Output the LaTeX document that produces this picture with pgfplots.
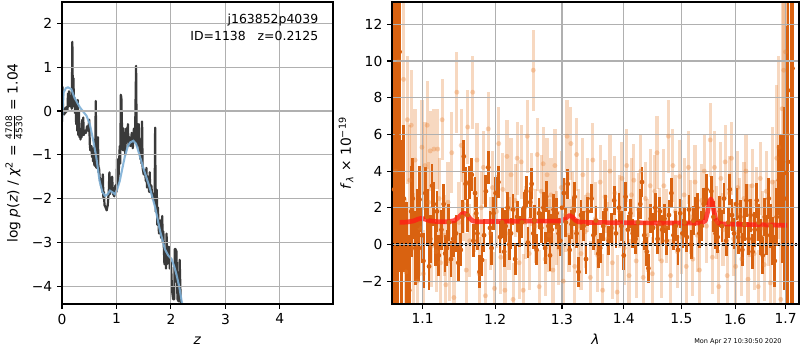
\documentclass[border=0pt]{standalone}
\usepackage{pgfplots}
\pgfplotsset{compat=1.18}
\usepackage{fontspec}
\setmainfont{DejaVu Sans}
\definecolor{darkor}{RGB}{217,98,16}
\definecolor{lightor}{RGB}{230,125,45}
\definecolor{gridc}{RGB}{176,176,176}
\definecolor{pzblue}{RGB}{125,175,214}
\definecolor{pzdark}{RGB}{58,58,58}
\definecolor{modred}{RGB}{255,30,20}

\pgfplotstableread{
x y
0.00 -0.25
0.01 0.55
0.02 -0.05
0.03 0.0
0.04 -0.08
0.05 0.05
0.06 -0.05
0.07 0.08
0.08 -0.02
0.09 0.10
0.10 0.0
0.11 0.4
0.12 0.1
0.13 0.45
0.14 0.3
0.15 0.25
0.16 0.1
0.17 0.35
0.18 0.05
0.19 1.58
0.20 0.15
0.21 0.75
0.22 0.1
0.23 0.3
0.24 -0.05
0.25 0.2
0.26 -0.3
0.27 0.05
0.28 -0.45
0.29 0.25
0.30 -0.55
0.31 0.0
0.32 -0.6
0.33 -0.4
0.34 -0.65
0.35 -0.5
0.36 -0.6
0.37 -0.2
0.38 -0.55
0.39 -0.15
0.40 -0.55
0.42 -0.45
0.44 -0.5
0.46 -0.35
0.48 -0.45
0.50 -0.2
0.51 -0.75
0.52 -0.9
0.54 -0.8
0.55 -1.05
0.56 -0.9
0.57 -1.15
0.58 -0.85
0.59 -1.2
0.60 -1.25
0.61 -0.9
0.62 0.23
0.63 -1.3
0.64 -1.0
0.65 -1.2
0.66 -0.6
0.67 -1.4
0.68 -1.3
0.69 -1.5
0.70 -1.6
0.71 -1.55
0.72 -1.75
0.73 -1.6
0.74 -1.85
0.75 -1.45
0.76 -2.0
0.77 -1.85
0.78 -2.15
0.80 -2.2
0.82 -2.27
0.84 -2.15
0.86 -1.8
0.87 -1.4
0.88 -1.9
0.90 -1.75
0.92 -1.5
0.93 -1.75
0.94 -1.9
0.96 -1.95
0.98 -1.7
1.00 -1.85
1.01 -1.1
1.02 -1.7
1.04 -1.45
1.06 -0.8
1.07 -1.2
1.08 0.37
1.09 0.3
1.10 -0.3
1.11 -0.5
1.12 -0.9
1.13 -0.4
1.14 -0.9
1.15 -0.5
1.16 -1.0
1.18 -0.4
1.20 -0.7
1.21 -0.3
1.22 -0.8
1.24 -0.6
1.26 -0.8
1.28 -0.5
1.30 -0.85
1.32 -0.4
1.34 -0.7
1.36 1.03
1.37 -0.5
1.38 -0.8
1.39 -0.3
1.40 -0.6
1.41 -0.3
1.42 -0.8
1.44 -1.1
1.45 -0.9
1.46 -1.2
1.47 -0.24
1.48 -1.3
1.50 -1.45
1.52 -1.35
1.54 -1.6
1.55 -1.3
1.56 -1.75
1.58 -1.5
1.60 -1.85
1.61 -1.4
1.62 -1.85
1.64 -1.7
1.66 -2.0
1.68 -1.9
1.70 -2.1
1.71 -0.38
1.72 -2.3
1.74 -1.8
1.75 -2.6
1.76 -2.2
1.78 -2.8
1.80 -2.5
1.82 -2.9
1.84 -2.4
1.85 -3.0
1.86 -2.75
1.88 -3.5
1.90 -3.2
1.91 -3.6
1.92 -2.8
1.93 -3.5
1.94 -3.3
1.96 -3.1
1.98 -3.6
2.00 -3.45
2.02 -4.1
2.04 -4.3
2.06 -4.3
2.07 -3.15
2.08 -3.15
2.10 -3.2
2.12 -4.3
2.14 -4.35
2.16 -3.4
2.18 -4.4
2.20 -4.45
2.22 -4.5
}\pzdata

\pgfplotstableread{
x y
0.00 -0.23
0.03 0.42
0.07 0.52
0.11 0.54
0.17 0.50
0.23 0.30
0.33 0.08
0.45 -0.11
0.51 -0.30
0.57 -0.65
0.63 -1.06
0.69 -1.60
0.74 -1.85
0.79 -1.94
0.84 -1.90
0.88 -1.82
0.93 -1.86
0.97 -1.90
1.01 -1.80
1.06 -1.60
1.15 -1.06
1.21 -0.80
1.25 -0.72
1.31 -0.68
1.36 -0.75
1.40 -0.91
1.49 -1.29
1.61 -1.75
1.71 -2.20
1.80 -2.74
1.89 -3.16
1.95 -3.30
2.01 -3.38
2.06 -3.55
2.10 -3.73
2.15 -4.00
2.20 -4.37
2.23 -4.50
}\pzsmooth

\pgfplotstableread{
x y e
1.0630 3.0 20
1.0668 6.0 20
1.0700 10.5 12
1.0725 0.7 5
1.0755 2.5 4
1.0786 -1.2 3.5
1.0824 -2.5 3
1.0850 1.8 2.5
1.0870 2.5 2.2
1.0904 -0.2 2
1.0930 1.0 2
1.0950 -0.2 1.8
1.0960 2.45 1.8
1.0990 0.5 1.5
1.1010 -0.9 1.5
1.1035 2.8 1.4
1.1060 1.5 1.5
1.1085 -1.2 1.3
1.1100 0.3 1.3
1.1125 3.2 1.2
1.1147 2.2 1.2
1.1170 0.0 1.2
1.1190 1.8 1.1
1.1215 -0.6 1.1
1.1250 0.8 1.1
1.1280 2.2 1.1
1.1300 -0.5 1.0
1.1325 -0.2 1.0
1.1350 1.2 1.0
1.1380 -0.8 1.0
1.1410 0.3 1.0
1.1450 0.6 1.0
1.1480 -1.0 1.0
1.1515 -0.3 0.9
1.1535 1.5 0.9
1.1556 4.8 0.9
1.1580 3.3 0.9
1.1610 1.6 0.9
1.1635 3.4 0.9
1.1667 3.8 0.9
1.1690 0.2 0.9
1.1713 2.8 0.9
1.1730 1.7 0.9
1.1746 0.6 0.9
1.1775 -1.5 0.9
1.1812 -0.85 0.9
1.1840 0.5 0.9
1.1866 2.9 0.9
1.1900 4.2 0.9
1.1925 0.9 0.9
1.1948 -0.2 0.9
1.1975 1.7 0.9
1.2005 2.8 0.85
1.2046 3.4 0.85
1.2070 0.4 0.85
1.2100 1.2 0.85
1.2130 -0.4 0.85
1.2150 1.0 0.85
1.2180 2.0 0.85
1.2205 0.0 0.85
1.2230 0.6 0.85
1.2260 1.9 0.85
1.2290 -0.8 0.85
1.2320 1.5 0.85
1.2357 0.7 0.85
1.2390 1.2 0.85
1.2425 2.0 0.85
1.2455 2.9 0.85
1.2480 0.1 0.85
1.2514 2.3 0.85
1.2536 3.3 0.85
1.2560 0.6 0.85
1.2580 1.3 0.85
1.2610 -0.3 0.85
1.2647 1.7 0.85
1.2680 0.9 0.85
1.2713 2.0 0.85
1.2740 -0.2 0.85
1.2757 2.6 0.85
1.2790 1.0 0.85
1.2815 -0.6 0.85
1.2840 0.8 0.85
1.2870 1.9 0.85
1.2916 1.7 0.85
1.2947 0.6 0.85
1.2975 0.2 0.85
1.3000 2.0 0.8
1.3030 2.8 0.8
1.3060 1.2 0.8
1.3090 3.3 0.8
1.3120 -0.3 0.8
1.3150 1.1 0.8
1.3180 1.8 0.8
1.3200 2.6 0.8
1.3230 0.6 0.8
1.3260 -1.5 0.8
1.3300 1.6 0.8
1.3340 1.0 0.8
1.3380 -0.8 0.8
1.3410 1.8 0.8
1.3470 2.5 0.8
1.3500 0.5 0.8
1.3540 1.3 0.8
1.3580 -0.5 0.8
1.3610 -0.2 0.8
1.3660 1.0 0.8
1.3700 1.9 0.8
1.3750 0.2 0.8
1.3790 0.9 0.8
1.3840 2.4 0.8
1.3870 0.6 0.8
1.3920 2.0 0.8
1.3960 1.0 0.8
1.4000 -0.6 0.8
1.4030 2.6 0.8
1.4070 0.8 0.8
1.4110 1.7 0.8
1.4150 0.6 0.8
1.4200 0.3 0.8
1.4240 1.2 0.8
1.4280 2.2 0.8
1.4310 3.4 0.8
1.4350 0.5 0.8
1.4393 -0.4 0.8
1.4420 -1.3 0.8
1.4460 1.4 0.8
1.4500 0.9 0.8
1.4540 2.0 0.8
1.4580 0.3 0.8
1.4620 1.8 0.8
1.4660 0.8 0.8
1.4700 1.4 0.8
1.4740 0.2 0.8
1.4780 1.6 0.8
1.4823 2.8 0.8
1.4860 0.5 0.8
1.4900 1.0 0.8
1.4940 -0.3 0.8
1.4980 1.7 0.8
1.5020 0.6 0.8
1.5060 1.2 0.8
1.5100 0.4 0.8
1.5140 1.9 0.8
1.5180 0.0 0.8
1.5220 1.3 0.8
1.5250 1.8 0.8
1.5290 2.0 0.8
1.5330 0.6 0.8
1.5370 1.0 0.8
1.5410 2.2 0.85
1.5460 3.0 0.85
1.5550 2.9 0.85
1.5590 1.5 0.85
1.5630 0.6 0.85
1.5670 0.4 0.85
1.5710 1.8 0.85
1.5750 1.0 0.85
1.5790 2.5 0.85
1.5830 0.2 0.85
1.5870 1.2 0.85
1.5900 3.0 0.85
1.5940 1.6 0.85
1.5980 0.6 0.85
1.6020 2.2 0.85
1.6060 0.4 0.9
1.6100 1.5 0.9
1.6140 -0.3 0.9
1.6180 1.1 0.9
1.6220 2.4 0.9
1.6260 0.3 0.9
1.6300 1.6 0.9
1.6340 -0.4 0.95
1.6380 0.8 0.95
1.6420 2.4 0.95
1.6460 1.2 1.0
1.6500 0.4 1.0
1.6540 -0.6 1.0
1.6580 1.5 1.05
1.6620 0.5 1.1
1.6660 2.5 1.1
1.6700 1.0 1.2
1.6740 0.2 1.3
1.6780 -0.9 1.4
1.6820 1.5 1.6
1.6860 3.5 1.9
1.6900 3.5 2.5
1.6940 2.5 3.5
1.6975 2.5 5
1.7010 3.9 8
1.7050 4.5 15
1.7110 8.4 20
1.7140 9.6 20
}\darkdata

\pgfplotstableread{
x y e
1.0650 4.0 20
1.0690 10.0 10
1.0751 9.0 5
1.0780 -1.5 4
1.0800 6.8 3.5
1.0830 3.5 3
1.0850 6.5 3
1.0880 -0.2 3
1.0900 4.6 2.8
1.0930 -2.0 2.8
1.0960 0.9 2.6
1.0990 5.3 2.6
1.1010 -1.6 2.4
1.1030 4.3 2.4
1.1060 6.5 2.4
1.1080 2.3 2.2
1.1100 5.1 2.2
1.1120 -0.1 2.2
1.1150 5.2 2.2
1.1180 -0.4 2.2
1.1200 5.2 2.2
1.1220 2.5 2.2
1.1240 -1.0 2.2
1.1260 6.8 2.2
1.1290 0.5 2.2
1.1310 -2.2 2.2
1.1340 2.3 2.2
1.1360 -0.9 2.2
1.1390 5.0 2.2
1.1420 -2.9 2.2
1.1460 8.3 2.2
1.1490 1.2 2.2
1.1520 5.4 2.0
1.1550 2.2 2.0
1.1590 -1.4 2.0
1.1610 6.4 2.0
1.1640 0.2 2.0
1.1680 8.3 2.0
1.1710 1.6 2.0
1.1740 4.6 2.0
1.1770 -1.6 2.0
1.1800 2.0 2.0
1.1830 4.2 2.0
1.1860 -2.8 2.0
1.1900 6.3 2.0
1.1930 0.6 2.0
1.1960 3.1 2.0
1.1990 -2.4 2.0
1.2020 1.8 2.0
1.2050 5.5 2.0
1.2080 -0.7 2.0
1.2110 3.0 2.0
1.2140 -2.5 2.0
1.2170 4.8 2.0
1.2200 0.6 2.0
1.2230 3.8 2.0
1.2260 -3.0 2.0
1.2290 2.4 2.0
1.2320 4.7 2.0
1.2350 -1.0 2.0
1.2380 4.5 2.0
1.2410 -2.5 2.0
1.2440 1.2 2.0
1.2470 5.9 2.0
1.2500 -0.5 2.0
1.2530 3.0 2.0
1.2560 9.5 2.2
1.2590 1.0 2.0
1.2620 4.9 2.0
1.2650 -2.3 2.0
1.2680 2.9 2.0
1.2710 4.4 2.0
1.2740 -0.8 2.0
1.2770 3.8 2.0
1.2800 0.5 2.0
1.2830 2.7 2.0
1.2860 -1.4 2.0
1.2890 4.3 2.0
1.2920 0.9 2.0
1.2950 -0.2 2.0
1.2990 3.1 2.0
1.3020 -2.0 2.0
1.3050 1.6 2.0
1.3080 5.9 2.0
1.3110 0.5 2.0
1.3140 5.5 2.0
1.3170 2.0 2.0
1.3200 -1.2 2.0
1.3230 4.9 2.0
1.3260 1.0 2.0
1.3300 -0.5 2.0
1.3330 3.8 2.0
1.3370 0.7 2.0
1.3410 2.7 2.0
1.3450 -1.8 2.0
1.3490 4.6 2.0
1.3530 1.4 2.0
1.3570 -0.6 2.0
1.3610 3.4 2.0
1.3650 -2.5 2.0
1.3690 2.6 2.0
1.3730 0.3 2.0
1.3770 4.0 2.0
1.3810 -1.0 2.0
1.3850 2.8 2.0
1.3890 -2.6 2.0
1.3930 1.8 2.0
1.3970 3.6 2.0
1.4010 -0.2 2.0
1.4050 4.3 2.0
1.4090 -1.7 2.0
1.4130 2.7 2.0
1.4170 3.5 2.0
1.4210 -0.9 2.0
1.4250 1.9 2.0
1.4290 4.0 2.0
1.4330 -1.8 2.0
1.4370 2.5 2.0
1.4410 0.5 2.0
1.4450 3.2 2.0
1.4490 -1.6 2.0
1.4530 2.9 2.0
1.4570 5.0 2.0
1.4610 1.1 2.0
1.4650 -0.9 2.0
1.4690 3.2 2.0
1.4730 1.0 2.0
1.4770 5.9 2.0
1.4810 -1.7 2.0
1.4850 4.3 2.0
1.4890 1.8 2.0
1.4930 -0.4 2.0
1.4970 3.7 2.0
1.5010 0.4 2.0
1.5050 2.7 2.0
1.5090 -1.2 2.0
1.5130 4.2 2.0
1.5170 1.5 2.0
1.5210 -0.8 2.0
1.5250 3.4 2.0
1.5290 0.5 2.0
1.5330 -1.4 2.0
1.5370 2.4 2.0
1.5420 4.0 2.0
1.5460 1.0 2.0
1.5530 5.7 2.0
1.5570 -0.7 2.0
1.5610 4.2 2.0
1.5650 1.2 2.0
1.5690 -2.3 2.0
1.5730 3.6 2.0
1.5770 0.8 2.0
1.5810 4.5 2.0
1.5850 -1.7 2.0
1.5890 2.8 2.0
1.5930 4.7 2.0
1.5970 0.3 2.0
1.6010 -1.2 2.0
1.6050 3.1 2.0
1.6090 1.6 2.0
1.6130 -0.8 2.0
1.6170 2.5 2.0
1.6210 4.0 2.0
1.6250 -1.9 2.0
1.6290 1.3 2.0
1.6330 3.2 2.0
1.6370 -0.5 2.0
1.6410 2.2 2.0
1.6450 -2.3 2.0
1.6490 3.6 2.0
1.6530 0.9 2.0
1.6570 -1.1 2.0
1.6610 2.9 2.2
1.6650 1.2 2.4
1.6690 -2.1 2.6
1.6730 3.4 3
1.6770 0.0 3.5
1.6820 4.7 4
1.6860 5.3 5
1.6900 -3.0 6
1.6930 7.4 7
1.6960 9.5 9
1.7000 10.5 11
1.7040 6.0 20
}\lightdata

\pgfplotstableread{
x y
1.070 1.20
1.080 1.22
1.088 1.28
1.094 1.38
1.098 1.42
1.103 1.38
1.110 1.28
1.120 1.24
1.135 1.24
1.143 1.30
1.149 1.50
1.153 1.66
1.156 1.70
1.160 1.62
1.164 1.42
1.168 1.28
1.175 1.24
1.200 1.25
1.250 1.27
1.295 1.27
1.303 1.33
1.308 1.50
1.312 1.58
1.316 1.50
1.321 1.32
1.327 1.22
1.340 1.20
1.400 1.18
1.470 1.17
1.538 1.17
1.544 1.30
1.548 1.75
1.551 2.25
1.554 2.48
1.557 2.30
1.560 1.80
1.563 1.40
1.567 1.18
1.575 1.12
1.600 1.10
1.650 1.07
1.703 1.04
}\modeldata

\begin{document}
\begin{tikzpicture}
\useasboundingbox (0,0) rectangle (578.16pt,252.95pt);
\pgfplotsset{
  myax/.style={scale only axis, axis on top, grid=major,
    grid style={gridc, line width=0.8pt},
    tick align=outside, tick pos=left, major tick length=3.5pt,
    tick style={black, line width=0.8pt},
    axis line style={line width=0.8pt},
    tick label style={font=\fontsize{10}{12}\selectfont},
    label style={font=\fontsize{10}{12}\selectfont},
    height=218.25pt}
}
\begin{axis}[myax, at={(44.81pt,33.24pt)}, anchor=south west, width=195.85pt,
  xmin=0, xmax=4.975, ymin=-4.41, ymax=2.49,
  xtick={0,1,2,3,4}, xticklabels={0,1,2,3,4},
  ytick={-4,-3,-2,-1,0,1,2}, yticklabels={−4,−3,−2,−1,0,1,2},
  xlabel={\textit{z}},
  xlabel style={at={(axis description cs:0.5,-0.1325)}, anchor=base},
  ylabel={log \textit{p}(\textit{z}) / \textit{χ}\textsuperscript{2} = $\frac{\mbox{\fontsize{6.5}{6.5}\selectfont 4708}}{\mbox{\fontsize{6.5}{6.5}\selectfont 4530}}$ = 1.04},
  ylabel style={at={(axis description cs:-0.177,0.5)}, anchor=center}]
\addplot[pzdark, line width=1.6pt, line join=round] table[x=x,y=y] {\pzdata};
\addplot[pzblue, line width=1.5pt, opacity=0.9] table[x=x,y=y] {\pzsmooth};
\end{axis}

\begin{axis}[myax, at={(283.30pt,33.24pt)}, anchor=south west, width=294.1pt,
  xmode=log, xmin=1.0603, xmax=1.7274, ymin=-3.25, ymax=13.22,
  xtick={1.1,1.2,1.3,1.4,1.5,1.6,1.7}, xticklabels={1.1,1.2,1.3,1.4,1.5,1.6,1.7},
  xminorticks=false,
  ytick={-2,0,2,4,6,8,10,12}, yticklabels={−2,0,2,4,6,8,10,12},
  xlabel={\textit{λ}},
  xlabel style={at={(axis description cs:0.5,-0.1325)}, anchor=base},
  ylabel={\textit{f}\textsubscript{\textit{λ}} × 10\textsuperscript{−19}},
  ylabel style={at={(axis description cs:-0.113,0.5)}, anchor=center}]
\addplot[only marks, mark=*, mark size=1.8pt, lightor, mark options={draw opacity=0, fill opacity=0.33},
  error bars/.cd, y dir=both, y explicit, error mark=none,
  error bar style={line width=2.3pt, opacity=0.3}]
  table[x=x,y=y,y error=e] {\lightdata};
\addplot[only marks, mark=*, mark size=1.75pt, darkor, mark options={draw opacity=0},
  error bars/.cd, y dir=both, y explicit, error mark=none,
  error bar style={line width=2.0pt}]
  table[x=x,y=y,y error=e] {\darkdata};
\addplot[modred, line width=3.4pt, opacity=0.8, line join=round] table[x=x,y=y] {\modeldata};
\addplot[black, line width=1.6pt, dash pattern=on 1.6pt off 1.5pt] coordinates {(1.0603,0) (1.7274,0)};
\end{axis}

\node[anchor=north east, align=right, font=\fontsize{9}{12.5}\selectfont, inner sep=0pt] at (230.18pt,243.19pt) {j163852p4039\\ID=1138\ \ \ z=0.2125};
\node[anchor=west, font=\fontsize{4.7}{5}\selectfont, inner sep=0pt] at (501.55pt,5.78pt) {Mon Apr 27 10:30:50 2020};
\end{tikzpicture}
\end{document}
